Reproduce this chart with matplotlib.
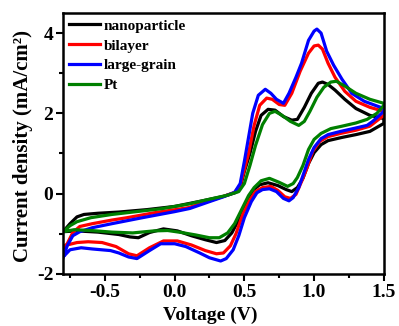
import matplotlib
matplotlib.use("Agg")
import matplotlib.pyplot as plt
from matplotlib.ticker import MultipleLocator

# nanoparticle (black)
np_fwd_v = [-0.80, -0.75, -0.70, -0.65, -0.55, -0.40, -0.20, 0.00, 0.20, 0.35, 0.44, 0.47, 0.50, 0.54,
            0.58, 0.62, 0.67, 0.72, 0.78, 0.84, 0.88, 0.93, 0.98, 1.03, 1.06, 1.10, 1.15, 1.22, 1.30, 1.40, 1.50]
np_fwd_j = [-0.95, -0.75, -0.58, -0.52, -0.49, -0.46, -0.40, -0.32, -0.18, -0.07, 0.03, 0.15, 0.55, 1.00,
            1.55, 1.95, 2.10, 2.08, 1.92, 1.83, 1.85, 2.15, 2.50, 2.75, 2.78, 2.72, 2.58, 2.35, 2.12, 1.95, 1.87]
np_rev_v = [1.50, 1.40, 1.30, 1.20, 1.10, 1.05, 1.00, 0.96, 0.92, 0.88, 0.84, 0.80, 0.74, 0.67, 0.61, 0.56,
            0.51, 0.46, 0.41, 0.36, 0.30, 0.22, 0.12, 0.02, -0.08, -0.18, -0.26, -0.32, -0.40, -0.55, -0.70, -0.80]
np_rev_j = [1.75, 1.55, 1.47, 1.40, 1.32, 1.22, 1.02, 0.75, 0.38, 0.15, 0.05, 0.10, 0.20, 0.27, 0.22, 0.08,
            -0.25, -0.65, -0.98, -1.17, -1.22, -1.15, -1.05, -0.93, -0.88, -0.97, -1.10, -1.08, -1.02, -0.96, -0.93, -0.95]

# bilayer (red)
bi_fwd_v = [-0.80, -0.77, -0.73, -0.68, -0.59, -0.45, -0.34, -0.15, 0.10, 0.25, 0.35, 0.43, 0.47, 0.50, 0.53,
            0.57, 0.61, 0.66, 0.70, 0.75, 0.79, 0.84, 0.90, 0.96, 1.00, 1.03, 1.06, 1.10, 1.15, 1.22, 1.30, 1.40, 1.50]
bi_fwd_j = [-1.35, -1.25, -0.97, -0.82, -0.75, -0.66, -0.60, -0.48, -0.35, -0.18, -0.07, 0.03, 0.20, 0.60, 1.00,
            1.70, 2.20, 2.38, 2.35, 2.22, 2.20, 2.50, 3.05, 3.50, 3.68, 3.70, 3.60, 3.25, 2.90, 2.55, 2.30, 2.15, 2.05]
bi_rev_v = [1.50, 1.40, 1.30, 1.19, 1.10, 1.04, 0.99, 0.95, 0.91, 0.87, 0.83, 0.79, 0.74, 0.69, 0.63, 0.58, 0.54,
            0.49, 0.44, 0.40, 0.35, 0.30, 0.22, 0.12, 0.02, -0.08, -0.18, -0.27, -0.33, -0.42, -0.52, -0.62, -0.70, -0.77, -0.80]
bi_rev_j = [1.95, 1.68, 1.58, 1.50, 1.42, 1.30, 1.05, 0.65, 0.30, -0.02, -0.12, -0.08, 0.08, 0.18, 0.15, 0.05, -0.15,
            -0.50, -1.00, -1.30, -1.48, -1.50, -1.42, -1.28, -1.18, -1.18, -1.35, -1.55, -1.50, -1.32, -1.22, -1.20, -1.22, -1.28, -1.35]

# large-grain (blue)
lg_fwd_v = [-0.80, -0.77, -0.73, -0.68, -0.59, -0.45, -0.23, 0.00, 0.11, 0.25, 0.35, 0.43, 0.47, 0.50, 0.53, 0.56,
            0.60, 0.65, 0.69, 0.73, 0.78, 0.82, 0.87, 0.91, 0.96, 1.00, 1.02, 1.05, 1.09, 1.14, 1.20, 1.27, 1.36, 1.50]
lg_fwd_j = [-1.60, -1.30, -1.05, -0.95, -0.85, -0.75, -0.60, -0.45, -0.37, -0.20, -0.08, 0.03, 0.25, 0.80, 1.40, 2.00,
            2.45, 2.60, 2.50, 2.35, 2.25, 2.50, 2.90, 3.25, 3.82, 4.05, 4.10, 4.00, 3.55, 3.20, 2.85, 2.50, 2.30, 2.12]
lg_rev_v = [1.50, 1.42, 1.38, 1.28, 1.19, 1.10, 1.05, 1.00, 0.96, 0.92, 0.89, 0.85, 0.82, 0.78, 0.73, 0.68, 0.63, 0.59,
            0.55, 0.50, 0.46, 0.42, 0.37, 0.33, 0.25, 0.18, 0.08, 0.00, -0.10, -0.18, -0.27, -0.33, -0.40, -0.46, -0.59,
            -0.67, -0.75, -0.80]
lg_rev_j = [2.05, 1.80, 1.70, 1.62, 1.55, 1.47, 1.37, 1.15, 0.85, 0.45, 0.15, -0.10, -0.18, -0.12, 0.05, 0.12, 0.10, 0.02,
            -0.20, -0.60, -1.05, -1.40, -1.62, -1.68, -1.60, -1.48, -1.32, -1.25, -1.25, -1.42, -1.62, -1.58, -1.48, -1.42, -1.38,
            -1.35, -1.40, -1.58]

# Pt (green)
pt_fwd_v = [-0.80, -0.75, -0.70, -0.60, -0.45, -0.30, -0.10, 0.10, 0.25, 0.38, 0.46, 0.50, 0.54, 0.58, 0.63, 0.68,
            0.72, 0.77, 0.83, 0.89, 0.93, 0.97, 1.02, 1.07, 1.12, 1.16, 1.22, 1.30, 1.40, 1.50]
pt_fwd_j = [-0.95, -0.80, -0.70, -0.60, -0.52, -0.46, -0.38, -0.26, -0.14, -0.04, 0.05, 0.25, 0.70, 1.20, 1.72, 2.00,
            2.05, 1.95, 1.80, 1.70, 1.80, 2.05, 2.40, 2.65, 2.78, 2.80, 2.68, 2.50, 2.35, 2.25]
pt_rev_v = [1.50, 1.45, 1.38, 1.30, 1.20, 1.12, 1.05, 1.00, 0.96, 0.92, 0.88, 0.85, 0.81, 0.75, 0.68, 0.62, 0.57, 0.53,
            0.48, 0.43, 0.38, 0.32, 0.25, 0.15, 0.05, -0.05, -0.15, -0.30, -0.45, -0.60, -0.72, -0.80]
pt_rev_j = [2.20, 2.00, 1.85, 1.76, 1.68, 1.62, 1.50, 1.35, 1.10, 0.70, 0.40, 0.25, 0.18, 0.28, 0.38, 0.32, 0.15, -0.05,
            -0.40, -0.75, -0.98, -1.10, -1.10, -1.03, -0.97, -0.92, -0.93, -0.98, -0.96, -0.92, -0.90, -0.95]

plt.rcParams['font.family'] = 'Liberation Serif'
plt.rcParams['font.weight'] = 'bold'
plt.rcParams['axes.unicode_minus'] = False

fig = plt.figure(figsize=(3.99, 3.26), dpi=100)
ax = fig.add_axes([0.158, 0.160, 0.804, 0.800])

curves = [
    ("nanoparticle", "black", np_fwd_v + np_rev_v, np_fwd_j + np_rev_j),
    ("bilayer", "red", bi_fwd_v + bi_rev_v, bi_fwd_j + bi_rev_j),
    ("large-grain", "blue", lg_fwd_v + lg_rev_v, lg_fwd_j + lg_rev_j),
    ("Pt", "green", pt_fwd_v + pt_rev_v, pt_fwd_j + pt_rev_j),
]
for name, color, v, j in curves:
    ax.plot(v, j, color=color, lw=2.3, label=name, solid_joinstyle='round')

ax.set_xlim(-0.8, 1.5)
ax.set_ylim(-2, 4.5)
ax.xaxis.set_major_locator(MultipleLocator(0.5))
ax.xaxis.set_minor_locator(MultipleLocator(0.25))
ax.yaxis.set_major_locator(MultipleLocator(2))
ax.yaxis.set_minor_locator(MultipleLocator(1))
ax.tick_params(which='both', direction='out', width=1.5, labelsize=14)
ax.tick_params(which='major', length=5, pad=2)
ax.tick_params(which='minor', length=3)
for s in ax.spines.values():
    s.set_linewidth(1.8)

ax.set_xlabel("Voltage (V)", fontsize=14, fontweight='bold')
ax.xaxis.set_label_coords(0.46, -0.125)
ax.set_ylabel("Current density (mA/cm²)", fontsize=15, fontweight='bold')
ax.yaxis.set_label_coords(-0.095, 0.49)

ax.legend(loc='upper left', frameon=False, handlelength=2.0, handletextpad=0.25,
          labelspacing=0.4, borderaxespad=0.1, borderpad=0.3, prop={'weight': 'bold', 'size': 11})

fig.savefig("out.png", dpi=100)
